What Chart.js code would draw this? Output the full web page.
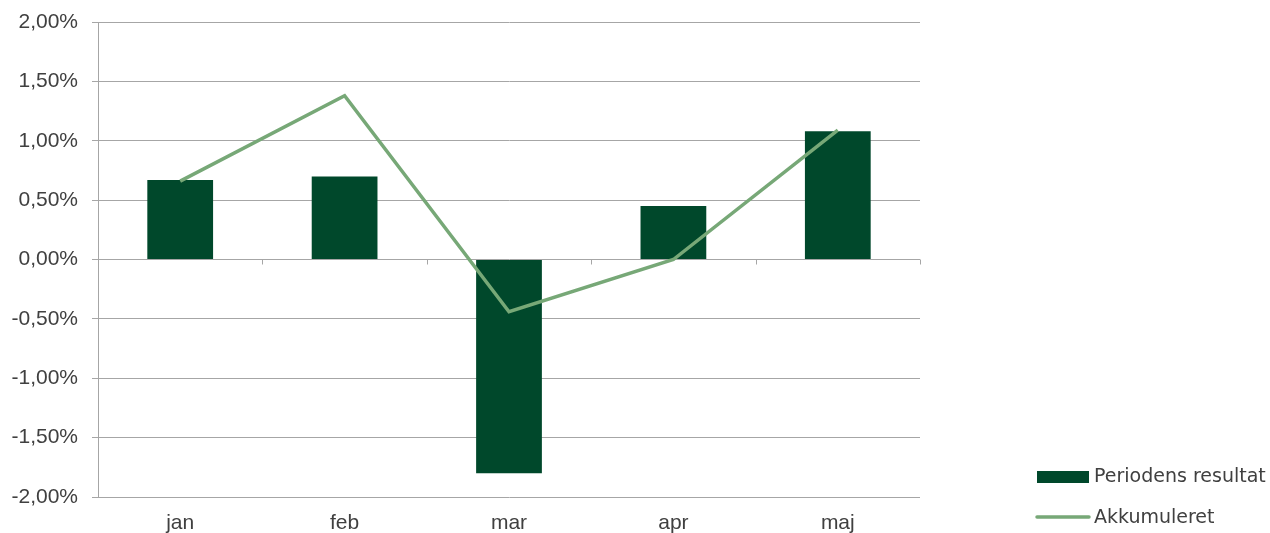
<!DOCTYPE html>
<html>
<head>
<meta charset="utf-8">
<script src="https://cdn.jsdelivr.net/npm/chart.js@4/dist/chart.umd.min.js"></script>
<style>
  html, body { margin: 0; padding: 0; background: #fff; }
  #wrap { width: 1270px; height: 533px; }
</style>
</head>
<body>
<div id="wrap"><canvas id="resultChart" width="1270" height="533"></canvas></div>
<script>
const months = ["jan", "feb", "mar", "apr", "maj"];
const periodResult = [0.67, 0.70, -1.80, 0.45, 1.08];
const accumulated = [0.66, 1.38, -0.44, 0.00, 1.09];
const yTicks = [-2, -1.5, -1, -0.5, 0, 0.5, 1, 1.5, 2];

const barColor = "#00482b";
const lineColor = "#77a877";
const gridColor = "#a6a6a6";
const textColor = "#404040";

function pct(v) {
    return v.toFixed(2).replace(".", ",") + "%";
}

// small tick marks on the zero line, between the months
const zeroTicks = {
    id: "zeroTicks",
    afterDatasetsDraw(chart) {
        const { ctx, scales: { x, y } } = chart;
        const y0 = y.getPixelForValue(0);
        const step = (x.right - x.left) / months.length;
        ctx.save();
        ctx.strokeStyle = gridColor;
        ctx.lineWidth = 1;
        ctx.beginPath();
        for (let i = 1; i <= months.length; i++) {
            const px = Math.round(x.left + i * step) + 0.5;
            ctx.moveTo(px, y0);
            ctx.lineTo(px, y0 + 5);
        }
        ctx.stroke();
        ctx.restore();
    }
};

// legend at the lower right
const sideLegend = {
    id: "sideLegend",
    afterDraw(chart) {
        const { ctx } = chart;
        const bar = chart.data.datasets[0];
        const line = chart.data.datasets[1];
        ctx.save();
        ctx.font = "19px 'DejaVu Sans'";
        ctx.textBaseline = "middle";

        ctx.fillStyle = bar.backgroundColor;
        ctx.fillRect(1037, 471, 52, 12);
        ctx.fillStyle = textColor;
        ctx.fillText(bar.label, 1094, 477);

        ctx.strokeStyle = line.borderColor;
        ctx.lineWidth = 3.5;
        ctx.lineCap = "round";
        ctx.beginPath();
        ctx.moveTo(1037, 517);
        ctx.lineTo(1089, 517);
        ctx.stroke();
        ctx.fillText(line.label, 1094, 518);
        ctx.restore();
    }
};

new Chart(document.getElementById("resultChart"), {
    type: "bar",
    data: {
        labels: months,
        datasets: [
            {
                type: "bar",
                label: "Periodens resultat",
                data: periodResult,
                backgroundColor: barColor,
                barPercentage: 0.4,
                categoryPercentage: 1,
                order: 1
            },
            {
                type: "line",
                label: "Akkumuleret",
                data: accumulated,
                borderColor: lineColor,
                backgroundColor: lineColor,
                borderWidth: 3.5,
                pointRadius: 0,
                tension: 0,
                order: 0
            }
        ]
    },
    options: {
        responsive: false,
        animation: false,
        layout: { padding: { left: 0, top: 22, right: 350, bottom: 0 } },
        plugins: {
            legend: { display: false },
            tooltip: { enabled: false }
        },
        scales: {
            x: {
                offset: true,
                grid: { display: false },
                border: { display: false },
                ticks: {
                    color: textColor,
                    font: { family: "'Liberation Sans'", size: 21 },
                    padding: 6
                },
                afterFit: s => { s.height = 36; s.paddingLeft = 0; s.paddingRight = 0; }
            },
            y: {
                min: -2,
                max: 2,
                afterBuildTicks: s => { s.ticks = yTicks.map(v => ({ value: v })); },
                grid: { color: gridColor, tickLength: 6, lineWidth: 1 },
                border: { color: gridColor },
                ticks: {
                    color: textColor,
                    font: { family: "'Liberation Sans'", size: 21 },
                    padding: 14,
                    callback: v => pct(v)
                },
                afterFit: s => { s.width = 98; s.paddingTop = 0; s.paddingBottom = 0; }
            }
        }
    },
    plugins: [zeroTicks, sideLegend]
});
</script>
</body>
</html>
